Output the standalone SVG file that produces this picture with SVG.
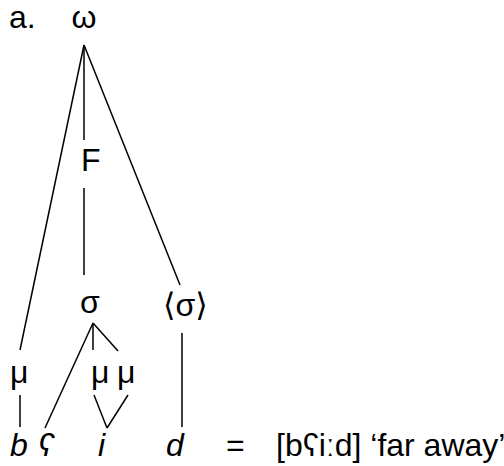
<svg xmlns="http://www.w3.org/2000/svg" width="504" height="466" viewBox="0 0 504 466">
<style>
text{font-family:"Liberation Sans",Arial,"DejaVu Sans",sans-serif;font-size:32px;fill:#000}
.it{font-style:italic}
line{stroke:#000;stroke-width:1.5}
</style>
<rect width="504" height="466" fill="#fff"/>
<g id="label"><text x="9" y="28">a.</text></g>
<g id="omega"><text x="84" y="28" text-anchor="middle">ω</text></g>
<g id="F"><text x="81" y="171">F</text></g>
<g id="sigma"><text x="80" y="313">σ</text></g>
<g id="sigma-opt"><text x="163" y="316">⟨σ⟩</text></g>
<g id="mu1"><text x="10" y="383">μ</text></g>
<g id="mu2"><text x="91" y="383">μ</text></g>
<g id="mu3"><text x="117" y="383">μ</text></g>
<g id="b"><text class="it" x="10" y="456">b</text></g>
<g id="ain"><text class="it" x="38" y="456">ʕ</text></g>
<g id="i"><text class="it" x="98" y="456">i</text></g>
<g id="d"><text class="it" x="166" y="456">d</text></g>
<g id="gloss"><text x="226" y="456">=</text><text x="276" y="456">[bʕiːd] ‘far away’</text></g>
<g id="connectors">
<line x1="84" y1="45" x2="20" y2="350"/>
<line x1="84" y1="45" x2="84" y2="140"/>
<line x1="84" y1="45" x2="180" y2="285"/>
<line x1="84" y1="188" x2="84" y2="275"/>
<line x1="93" y1="323" x2="45" y2="428"/>
<line x1="93" y1="323" x2="93" y2="350"/>
<line x1="93" y1="323" x2="118" y2="351"/>
<line x1="182" y1="333" x2="182" y2="427"/>
<line x1="20" y1="395" x2="20" y2="427"/>
<line x1="94" y1="395" x2="107" y2="428"/>
<line x1="128" y1="395" x2="107" y2="428"/>
</g>
</svg>
